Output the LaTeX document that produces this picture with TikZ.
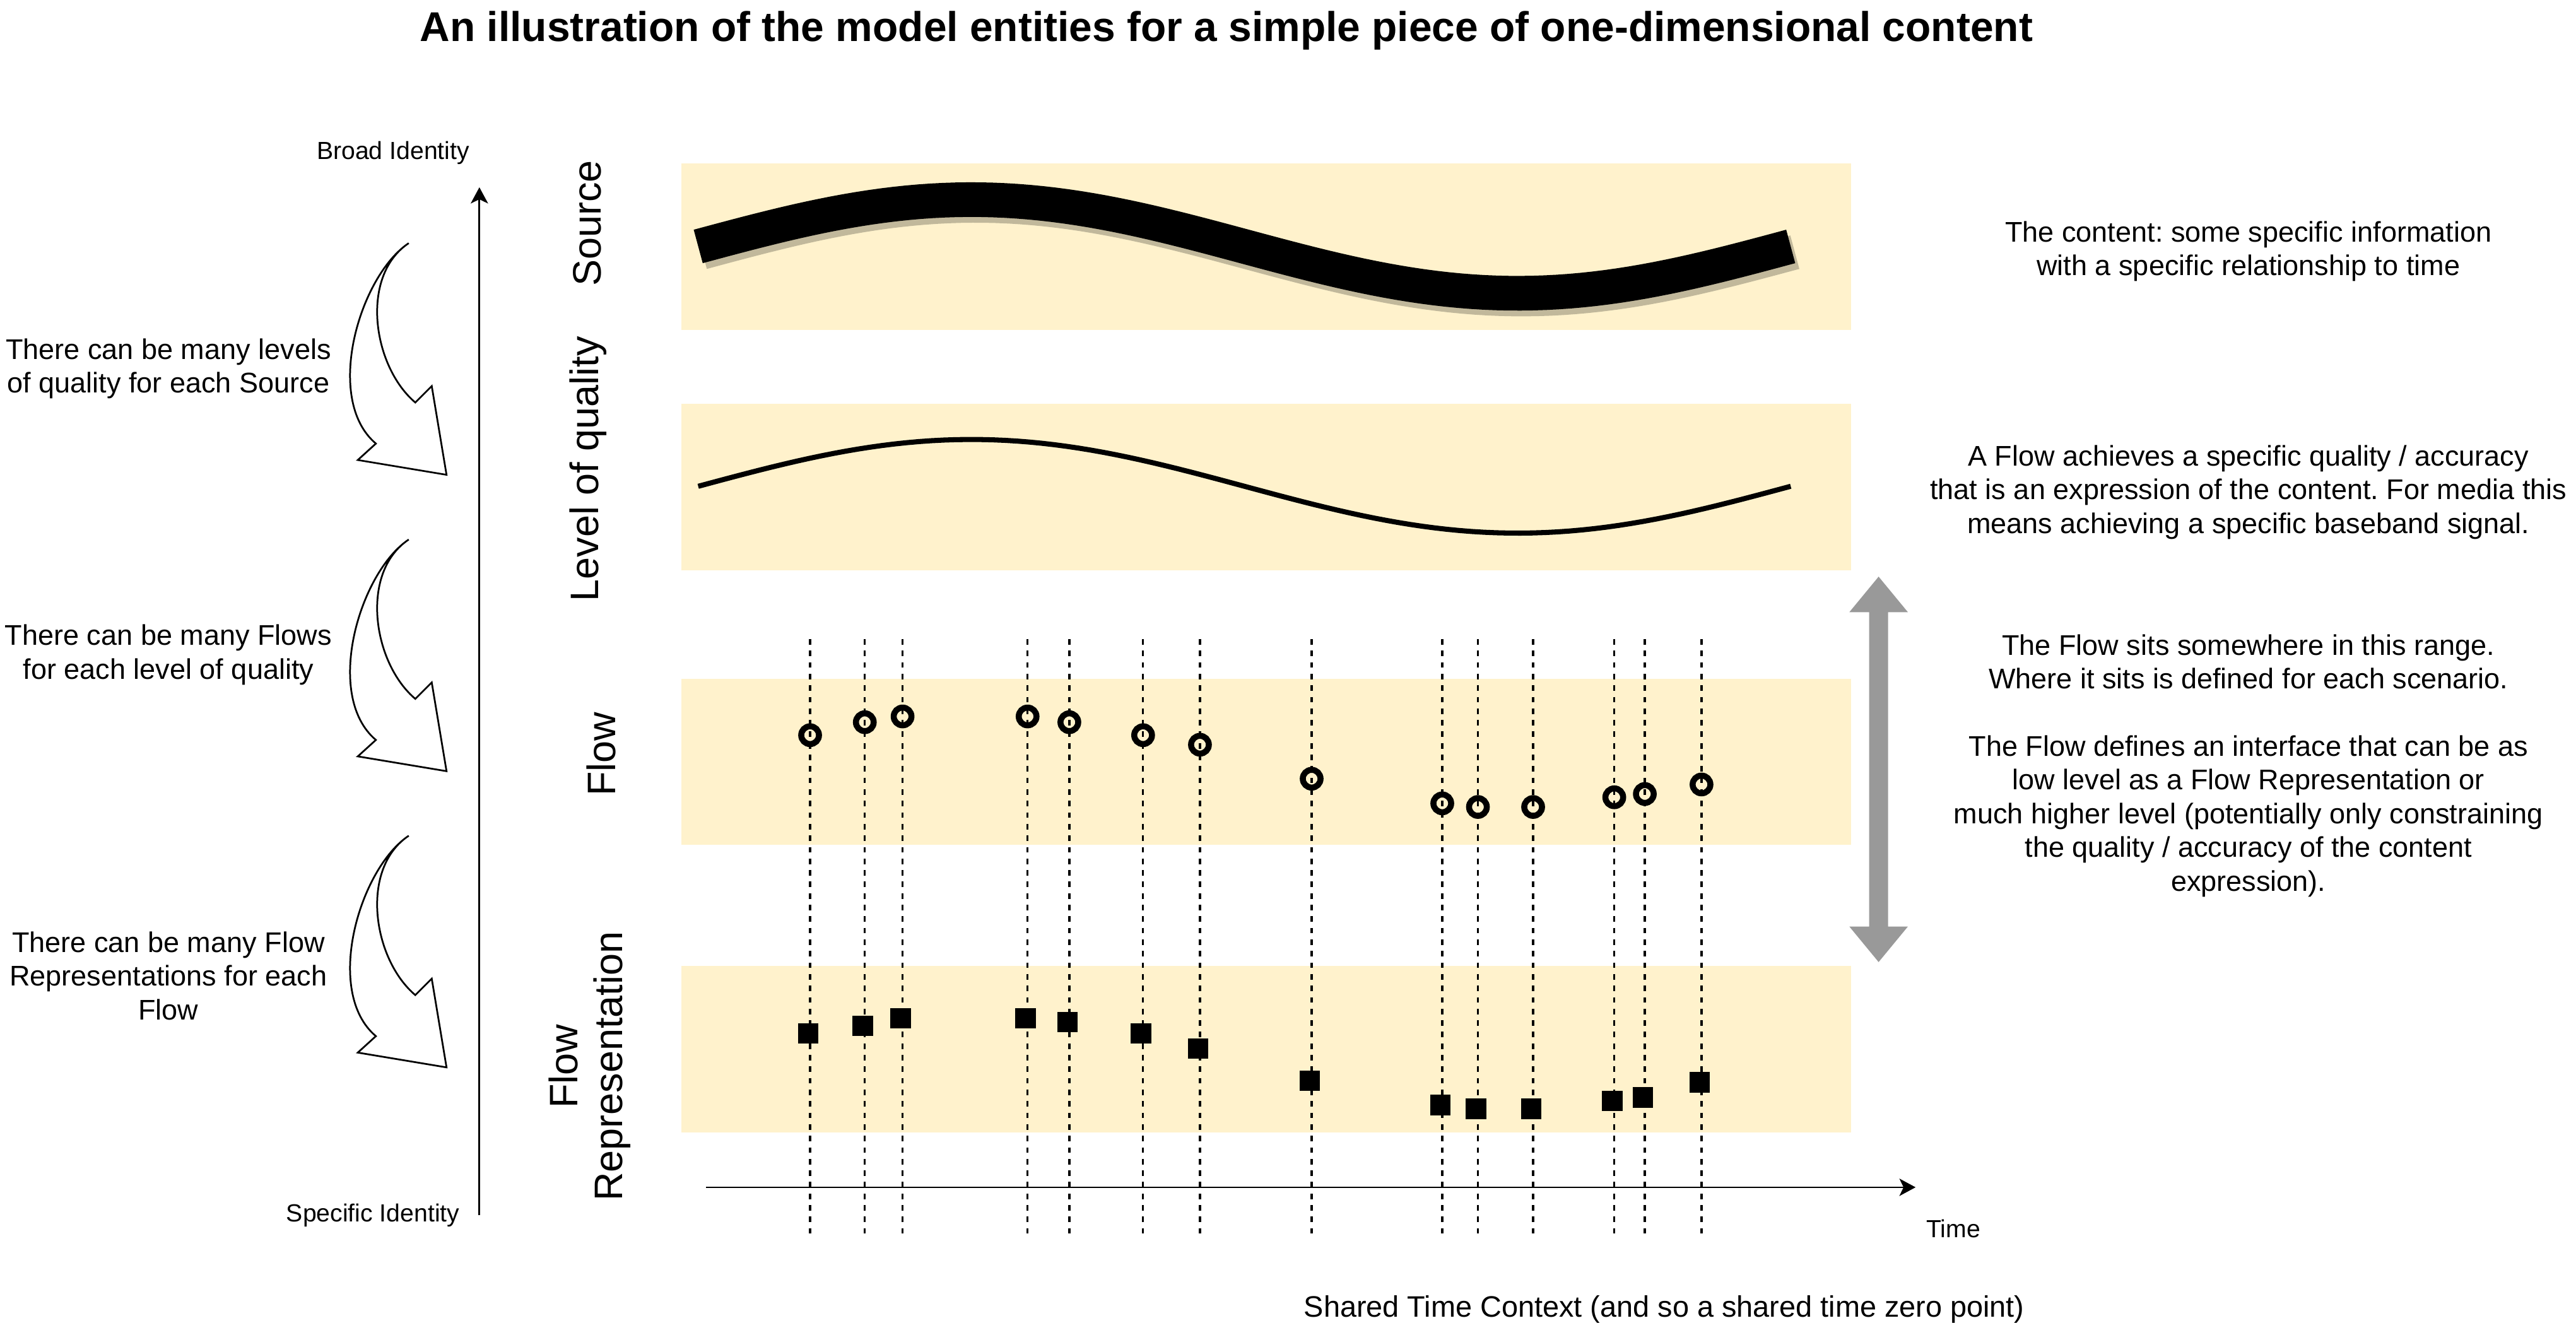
\documentclass[tikz,border=0pt]{standalone}
\usepackage{fontspec}
\setmainfont{Liberation Sans}
\frenchspacing
\usetikzlibrary{arrows.meta,calc,positioning}
\definecolor{band}{RGB}{255,242,204}
\definecolor{gray1}{RGB}{153,153,153}
\definecolor{shadow1}{RGB}{193,184,155}

\begin{document}
\begin{tikzpicture}[x=0.025cm,y=-0.025cm,>={Stealth[length=7pt,width=7.5pt,inset=1.8pt]},
    bandbox/.style={fill=band,draw=none},
    rowlabel/.style={rotate=90,align=center,font=\fontsize{17.2}{19.5}\selectfont},
    sidenote/.style={align=center,font=\fontsize{12.3}{14.6}\selectfont},
    smalltext/.style={font=\fontsize{10.7}{12}\selectfont},
    ring/.style={circle,draw,line width=2.6pt,inner sep=0pt,minimum size=0.27cm},
    blob/.style={rectangle,fill=black,inner sep=0pt,minimum size=0.3125cm},
    timeline/.style={line width=0.9pt,dash pattern=on 2.4pt off 2.6pt}]
    \path[use as bounding box] (0,0) rectangle (1568,805);

    % title
    \node[font=\bfseries\fontsize{18}{21}\selectfont] (title) at (746.5,18.5) {An illustration of the model entities for a simple piece of one-dimensional content};

    % bands
    \foreach \y in {99.6,245.8,413.2,588}{
      \path[bandbox] (414.6,\y) rectangle ++(712.1,101.2);
    }

    % row labels
    \node[rowlabel] (source) at (357.5,136) {Source};
    \node[rowlabel] (quality) at (358,285.5) {Level of quality};
    \node[rowlabel] (flow) at (366,459) {Flow};
    \node[rowlabel] (rep) at (359,649) {Flow\\Representation};

    % source and level of quality
    \draw[shadow1,line width=15pt] plot[domain=0:360,samples=90] ({427.5+\x/360*665},{153.5-28.5*sin(\x)});
    \draw[line width=15pt] plot[domain=0:360,samples=90] ({425+\x/360*665},{150-28.5*sin(\x)});
    \draw[line width=2.2pt] plot[domain=0:360,samples=90] ({425+\x/360*665},{296-28.5*sin(\x)});

    % identity axis
    \coordinate (idlow) at (291.8,739.7);
    \coordinate (idhigh) at (291.8,114);
    \draw[->,line width=0.75pt] (idlow) -- (idhigh);
    \node[smalltext] (broad) at (239.3,93) {Broad Identity};
    \node[smalltext] (specific) at (227,739.7) {Specific Identity};

    % curved arrows
    \foreach \y in {148,328.4,508.7}{
      \draw[line width=0.75pt,shift={(248.8,\y)}] (0,0) .. controls (-30,20) and (-52,95) .. (-20,122) -- (-31,132) -- (23,141) -- (14,87) -- (4,97) .. controls (-22,75) and (-30,20) .. cycle;
    }
    \node[sidenote] (lvlnote) at (102.5,224.5) {There can be many levels\\of quality for each Source};
    \node[sidenote] (flownote) at (102.5,398.5) {There can be many Flows\\for each level of quality};
    \node[sidenote] (repnote) at (102.5,594) {There can be many Flow\\Representations for each\\Flow};

    % time lines, flows and representations
    \foreach \n/\x/\c/\s in {1/493.1/447.5/629,2/526.4/439.6/624.4,3/549.4/436.1/619.8,4/625.5/436.1/619.8,
        5/650.9/439.6/622.1,6/695.8/447.5/629,7/730.4/453.3/638.2,8/798.4/474/657.8,9/877.9/489/672.6,
        10/899.6/491.2/675,11/933.2/491.2/675,12/982.6/485.3/670.2,13/1001.2/483.3/668.1,14/1035.7/477.5/658.9}{
      \coordinate (top\n) at (\x,389);
      \coordinate (bot\n) at (\x,751.5);
      \draw[timeline] (top\n) -- (bot\n);
      \node[ring] (f\n) at (\x,\c) {};
      \node[blob] (r\n) at ({\x-1.2},\s) {};
    }

    % time axis
    \coordinate (t0) at (429.8,722.7);
    \coordinate (t1) at (1166,722.7);
    \draw[->,line width=0.75pt] (t0) -- (t1);
    \node[smalltext] (time) at (1189,748) {Time};
    \node[sidenote,font=\fontsize{12.8}{15}\selectfont] (shared) at (1013,797) {Shared Time Context (and so a shared time zero point)};

    % range arrow
    \fill[gray1] (1143.5,351) -- (1161.3,372.6) -- (1149.3,372.6) -- (1149.3,564) -- (1161.3,564) -- (1143.5,585.6)
      -- (1125.7,564) -- (1137.7,564) -- (1137.7,372.6) -- (1125.7,372.6) -- cycle;

    % notes on the right
    \node[sidenote] (srcnote) at (1368.6,153) {The content: some specific information\\with a specific relationship to time};
    \node[sidenote] (qualnote) at (1368.6,299.5) {A Flow achieves a specific quality / accuracy\\that is an expression of the content. For media this\\means achieving a specific baseband signal.};
    \node[sidenote] (rangenote) at (1368.6,466) {The Flow sits somewhere in this range.\\Where it sits is defined for each scenario.\\[14.6pt]The Flow defines an interface that can be as\\low level as a Flow Representation or\\much higher level (potentially only constraining\\the quality / accuracy of the content\\expression).};

  \end{tikzpicture}
\end{document}
